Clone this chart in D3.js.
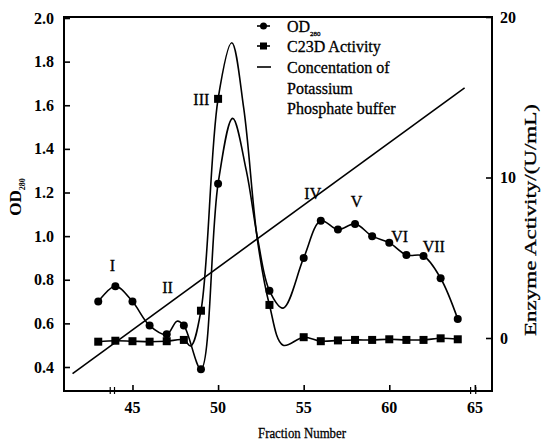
<!DOCTYPE html>
<html>
<head>
<meta charset="utf-8">
<script src="https://cdn.jsdelivr.net/npm/d3@7"></script>
<style>
  html, body { margin: 0; padding: 0; background: #fff; }
  svg { display: block; }
  text { font-family: "Liberation Serif", "Times New Roman", serif; fill: #000; }
</style>
</head>
<body>
<svg id="chart" width="542" height="444"></svg>
<script>
// ---- data ----
const xTicks = [45, 50, 55, 60, 65];
const leftTicks = [0.4, 0.6, 0.8, 1.0, 1.2, 1.4, 1.6, 1.8, 2.0];
const rightTicks = [0, 10, 20];

// OD280 (left axis) – marked fractions
const odFractions = [43, 44, 45, 46, 47, 48, 49, 50, 53, 55, 56, 57, 58, 59, 60, 61, 62, 63, 64];
const odValues    = [0.70, 0.77, 0.70, 0.59, 0.55, 0.59, 0.39, 1.24, 0.75, 0.90, 1.07, 1.03, 1.056, 1.00, 0.97, 0.914, 0.909, 0.807, 0.62];
// OD280 – unmarked shape points of the smoothed curve
const odShapeFractions = [47.6, 50.85, 51.65, 52.33, 53.8];
const odShapeValues    = [0.61, 1.54, 1.30, 0.98, 0.67];

// C23D activity (right axis, U/mL) – marked fractions
const actFractions = [43, 44, 45, 46, 47, 48, 49, 50, 53, 55, 56, 57, 58, 59, 60, 61, 62, 63, 64];
const actValues    = [-0.23, -0.17, -0.2, -0.23, -0.2, -0.12, 1.7, 14.9, 2.06, 0.05, -0.2, -0.15, -0.12, -0.12, -0.08, -0.12, -0.12, -0.02, -0.08];
// C23D activity – unmarked shape points
const actShapeFractions = [48.4, 50.8, 51.5, 52.3, 53.8];
const actShapeValues    = [-0.5, 18.4, 14.3, 6.1, -0.45];

// Potassium phosphate buffer gradient (drawn against the left scale)
const concFractions = [41.5, 64.4];
const concValues    = [0.37, 1.68];

// Peak labels
const peakNames     = ["I", "II", "III", "IV", "V", "VI", "VII"];
const peakFractions = [43.83, 47.05, 49.02, 55.53, 58.08, 60.61, 62.6];
const peakValues    = [0.868, 0.767, 1.625, 1.198, 1.158, 0.998, 0.955];

const legendLabels = ["OD", "C23D Activity", "Concentation of", "Potassium", "Phosphate buffer"];

// ---- layout ----
const svg = d3.select("#chart");
const pL = 64, pR = 492, pT = 17, pB = 391;

const x = d3.scaleLinear().domain([41, 66]).range([pL, pR]);
const yL = d3.scaleLinear().domain([0.4, 2.0]).range([367, 18]);
const yR = d3.scaleLinear().domain([0, 20]).range([338, 17]);

// frame
svg.append("rect").attr("x", pL).attr("y", pT)
  .attr("width", pR - pL).attr("height", pB - pT)
  .attr("fill", "none").attr("stroke", "#000").attr("stroke-width", 2);

// axes with inward ticks
const gx = svg.append("g").attr("transform", `translate(0,${pB})`)
  .call(d3.axisTop(x).tickValues(xTicks).tickSize(6).tickFormat(""));
const gl = svg.append("g").attr("transform", `translate(${pL},0)`)
  .call(d3.axisRight(yL).tickValues(leftTicks).tickSize(6).tickFormat(""));
const gr = svg.append("g").attr("transform", `translate(${pR},0)`)
  .call(d3.axisLeft(yR).tickValues(rightTicks).tickSize(6).tickFormat(""));
[gx, gl, gr].forEach(g => {
  g.select(".domain").remove();
  g.selectAll(".tick line").attr("stroke", "#000").attr("stroke-width", 1.6);
});

// small break marks on the x axis
[43.7, 43.95, 64.75, 65.05].forEach(f => {
  svg.append("line").attr("x1", x(f)).attr("x2", x(f))
    .attr("y1", pB - 4).attr("y2", pB + 3)
    .attr("stroke", "#000").attr("stroke-width", 1.2);
});

// tick labels
svg.append("g").selectAll("text").data(xTicks).join("text")
  .attr("x", d => x(d)).attr("y", 413).attr("text-anchor", "middle")
  .attr("font-size", 16).attr("font-weight", "bold").text(d => d);
svg.append("g").selectAll("text").data(leftTicks).join("text")
  .attr("x", 54).attr("y", d => yL(d)).attr("dy", "0.35em").attr("text-anchor", "end")
  .attr("font-size", 16).attr("font-weight", "bold").text(d => d.toFixed(1));
svg.append("g").selectAll("text").data(rightTicks).join("text")
  .attr("x", 500).attr("y", d => yR(d)).attr("dy", "0.35em").attr("text-anchor", "start")
  .attr("font-size", 16).attr("font-weight", "bold").text(d => d);

// axis titles
svg.append("text").attr("x", 302).attr("y", 438).attr("text-anchor", "middle")
  .attr("font-size", 15).attr("stroke", "#000").attr("stroke-width", 0.3)
  .attr("textLength", 88).attr("lengthAdjust", "spacingAndGlyphs")
  .text("Fraction Number");
const yt = svg.append("text").attr("transform", "translate(21,197) rotate(-90)")
  .attr("text-anchor", "middle").attr("font-size", 17).attr("font-weight", "bold");
yt.append("tspan").text("OD");
yt.append("tspan").attr("font-size", 8).attr("dy", 4).text("280");
svg.append("text").attr("transform", "translate(536,220) rotate(-90)")
  .attr("text-anchor", "middle").attr("font-size", 17)
  .attr("stroke", "#000").attr("stroke-width", 0.3)
  .attr("textLength", 232).attr("lengthAdjust", "spacingAndGlyphs")
  .text("Enzyme Activity/(U/mL)");

// concentration line
svg.append("line")
  .attr("x1", x(concFractions[0])).attr("y1", yL(concValues[0]))
  .attr("x2", x(concFractions[1])).attr("y2", yL(concValues[1]))
  .attr("stroke", "#000").attr("stroke-width", 1.6);

// curves
function merge(fa, va, fb, vb) {
  return fa.map((f, i) => [f, va[i]]).concat(fb.map((f, i) => [f, vb[i]]))
    .sort((a, b) => a[0] - b[0]);
}
const odPts = merge(odFractions, odValues, odShapeFractions, odShapeValues);
const actPts = merge(actFractions, actValues, actShapeFractions, actShapeValues);

svg.append("path").datum(odPts)
  .attr("d", d3.line().x(d => x(d[0])).y(d => yL(d[1])).curve(d3.curveCatmullRom.alpha(0.5)))
  .attr("fill", "none").attr("stroke", "#000").attr("stroke-width", 1.6);
svg.append("path").datum(actPts)
  .attr("d", d3.line().x(d => x(d[0])).y(d => yR(d[1])).curve(d3.curveCatmullRom.alpha(0.5)))
  .attr("fill", "none").attr("stroke", "#000").attr("stroke-width", 1.6);

// markers
svg.append("g").selectAll("circle").data(odFractions).join("circle")
  .attr("cx", d => x(d)).attr("cy", (d, i) => yL(odValues[i])).attr("r", 4).attr("fill", "#000");
svg.append("g").selectAll("rect").data(actFractions).join("rect")
  .attr("x", d => x(d) - 4).attr("y", (d, i) => yR(actValues[i]) - 4)
  .attr("width", 8).attr("height", 8).attr("fill", "#000");

// peak labels
svg.append("g").selectAll("text").data(peakNames).join("text")
  .attr("x", (d, i) => x(peakFractions[i])).attr("y", (d, i) => yL(peakValues[i]))
  .attr("dy", "0.35em").attr("text-anchor", "middle").attr("font-size", 16)
  .attr("stroke", "#000").attr("stroke-width", 0.3)
  .text(d => d);

// legend
const lgX = 257, lgTextX = 287, lgRows = [26, 46, 67, 88, 108];
const lg = svg.append("g");
lg.append("line").attr("x1", lgX).attr("x2", lgX + 13).attr("y1", lgRows[0]).attr("y2", lgRows[0])
  .attr("stroke", "#000").attr("stroke-width", 1.6);
lg.append("circle").attr("cx", lgX + 6.5).attr("cy", lgRows[0]).attr("r", 3.5).attr("fill", "#000");
lg.append("line").attr("x1", lgX).attr("x2", lgX + 13).attr("y1", lgRows[1]).attr("y2", lgRows[1])
  .attr("stroke", "#000").attr("stroke-width", 1.6);
lg.append("rect").attr("x", lgX + 3).attr("y", lgRows[1] - 3.5).attr("width", 7).attr("height", 7).attr("fill", "#000");
lg.append("line").attr("x1", lgX).attr("x2", lgX + 14).attr("y1", lgRows[2]).attr("y2", lgRows[2])
  .attr("stroke", "#000").attr("stroke-width", 1.6);

legendLabels.forEach((t, i) => {
  const tx = lg.append("text").attr("x", lgTextX).attr("y", lgRows[i]).attr("dy", "0.35em")
    .attr("font-size", 16).attr("stroke", "#000").attr("stroke-width", 0.3);
  tx.append("tspan").text(t);
  if (i === 0) tx.append("tspan").attr("font-size", 7).attr("dy", 4).text("280");
});
</script>
</body>
</html>
